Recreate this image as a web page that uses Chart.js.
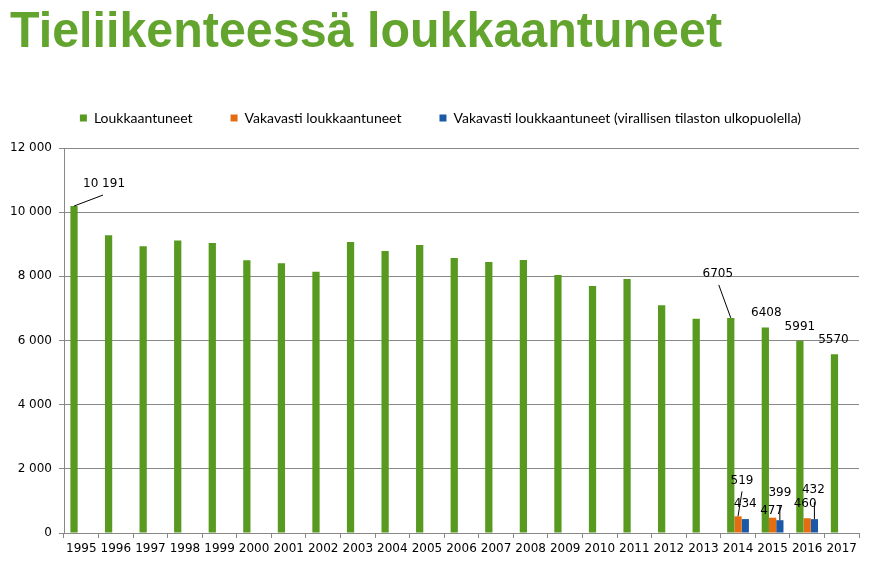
<!DOCTYPE html>
<html>
<head>
<meta charset="utf-8">
<script src="https://cdn.jsdelivr.net/npm/chart.js@4"></script>
<style>
  html, body { margin: 0; padding: 0; background: #fff; }
  #wrap { position: relative; width: 879px; height: 585px; }
  #title {
    position: absolute; left: 10px; top: 5px; margin: 0;
    font: bold 50px/50px "Liberation Sans", Arial, sans-serif;
    color: #62a42e; white-space: nowrap; transform-origin: 0 0;
  }
</style>
</head>
<body>
<div id="wrap">
  <h1 id="title">Tieliikenteessä loukkaantuneet</h1>
  <canvas id="injuredChart"></canvas>
</div>
<script>
// data
const years = ['1995', '1996', '1997', '1998', '1999', '2000', '2001', '2002', '2003', '2004', '2005', '2006',
               '2007', '2008', '2009', '2010', '2011', '2012', '2013', '2014', '2015', '2016', '2017'];
const injured = [10191, 9280, 8940, 9115, 9040, 8500, 8410, 8140, 9070, 8790, 8980, 8570,
                 8450, 8510, 8040, 7700, 7920, 7100, 6680, 6705, 6408, 5991, 5570];
const seriouslyInjured = [null, null, null, null, null, null, null, null, null, null, null, null,
                          null, null, null, null, null, null, null, 519, 477, 460, null];
const seriouslyOutside = [null, null, null, null, null, null, null, null, null, null, null, null,
                          null, null, null, null, null, null, null, 434, 399, 432, null];
const yTicks = [0, 2000, 4000, 6000, 8000, 10000, 12000];

const seriesNames = ['Loukkaantuneet', 'Vakavasti loukkaantuneet', 'Vakavasti loukkaantuneet (virallisen tilaston ulkopuolella)'];

// which values get a label, and where (offset from bar top), with optional leader line end
const shownLabels = [
  { ds: 0, i: 0,  dx: 30,  dy: -22, line: [29, -11] },
  { ds: 0, i: 19, dx: -13, dy: -44, line: [-12, -33] },
  { ds: 0, i: 20, dx: 1,   dy: -15 },
  { ds: 0, i: 21, dx: 0,   dy: -14 },
  { ds: 0, i: 22, dx: -1,  dy: -14 },
  { ds: 1, i: 19, dx: 4,   dy: -35, line: [4, -25] },
  { ds: 2, i: 19, dx: 0,   dy: -15 },
  { ds: 1, i: 20, dx: -1,  dy: -7 },
  { ds: 2, i: 20, dx: 0,   dy: -27, line: [0, -15] },
  { ds: 1, i: 21, dx: -2,  dy: -14 },
  { ds: 2, i: 21, dx: -1,  dy: -29, line: [0, -17] }
];

function spaced(v) {
    return String(v).replace(/\B(?=(\d{3})+(?!\d))/g, ' ');
}

// squeeze the title to a narrow bold look
(function () {
    const t = document.getElementById('title');
    const m = document.createElement('canvas').getContext('2d');
    m.font = 'bold 50px "Liberation Sans", Arial, sans-serif';
    const w = m.measureText(t.textContent).width;
    t.style.transform = 'scaleX(' + (712 / w) + ')';
})();

const leaderLabels = {
    id: 'leaderLabels',
    afterLayout(chart) {
        // legend sits centred on the whole page, not the padded box
        chart.legend.left += 11;
        chart.legend.right += 11;
    },
    afterDatasetsDraw(chart) {
        const ctx = chart.ctx;
        ctx.save();
        ctx.font = '12px "DejaVu Sans", sans-serif';
        ctx.fillStyle = '#000';
        ctx.strokeStyle = '#000';
        ctx.lineWidth = 1;
        ctx.textAlign = 'center';
        ctx.textBaseline = 'middle';
        shownLabels.forEach(l => {
            const el = chart.getDatasetMeta(l.ds).data[l.i];
            const v = chart.data.datasets[l.ds].data[l.i];
            if (l.line) {
                ctx.beginPath();
                ctx.moveTo(el.x, el.y);
                ctx.lineTo(el.x + l.line[0], el.y + l.line[1]);
                ctx.stroke();
            }
            let txt = v >= 10000 ? spaced(v) : String(v);
            ctx.fillText(txt, el.x + l.dx, el.y + l.dy);
        });
        ctx.restore();
    }
};

const ctx = document.getElementById('injuredChart').getContext('2d');
const chart = new Chart(ctx, {
    type: 'bar',
    plugins: [leaderLabels],
    data: {
        labels: years,
        datasets: [
            { label: seriesNames[0], data: injured, backgroundColor: '#579a1f' },
            { label: seriesNames[1], data: seriouslyInjured, backgroundColor: '#e46c12' },
            { label: seriesNames[2], data: seriouslyOutside, backgroundColor: '#1b58a5' }
        ]
    },
    options: {
        responsive: true,
        maintainAspectRatio: false,
        animation: false,
        datasets: {
            bar: { categoryPercentage: 0.63, barPercentage: 1 }
        },
        layout: { padding: { left: 0, right: 20, top: 73, bottom: 22 } },
        plugins: {
            title: { display: false },
            // empty spacer between legend and plot
            subtitle: {
                display: true,
                text: ' ',
                weight: 500,
                font: { size: 1, lineHeight: 1 },
                padding: { top: 6, bottom: 6 }
            },
            legend: {
                position: 'top',
                labels: {
                    boxWidth: 7,
                    boxHeight: 7,
                    padding: 38,
                    color: '#000',
                    font: { family: 'Lato, "Open Sans", sans-serif', size: 14 }
                }
            },
            tooltip: { enabled: false }
        },
        scales: {
            x: {
                offset: true,
                afterFit: s => { s.height = 30; },
                grid: { offset: true, drawOnChartArea: false, drawTicks: true, tickLength: 5, color: '#888' },
                border: { color: '#888' },
                ticks: { color: '#000', padding: 4, maxRotation: 0, autoSkip: false,
                         font: { family: '"DejaVu Sans", sans-serif', size: 12 } }
            },
            y: {
                min: 0,
                max: 12000,
                afterFit: s => { s.width = 64; },
                afterBuildTicks: s => { s.ticks = yTicks.map(v => ({ value: v })); },
                grid: { color: '#888', tickLength: 5 },
                border: { color: '#888' },
                ticks: { color: '#000', padding: 7,
                         font: { family: '"DejaVu Sans", sans-serif', size: 12 },
                         callback: v => spaced(v) }
            }
        }
    }
});
</script>
</body>
</html>
